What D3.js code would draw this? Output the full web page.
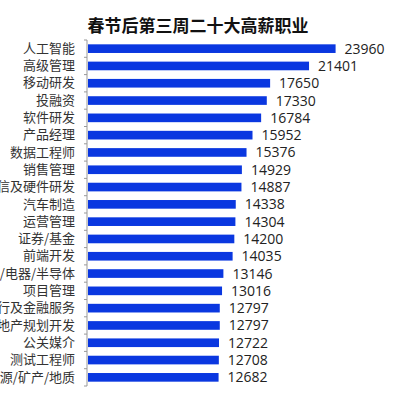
<!DOCTYPE html>
<html><head><meta charset="utf-8">
<script src="https://cdn.jsdelivr.net/npm/d3@7/dist/d3.min.js"></script>
<style>body{margin:0;background:#fff;}svg{display:block;}</style>
</head><body><svg id="c" width="400" height="400"></svg>
<script>
const title = "春节后第三周二十大高薪职业";
const categories = ["人工智能","高级管理","移动研发","投融资","软件研发","产品经理","数据工程师","销售管理","通信及硬件研发","汽车制造","运营管理","证券/基金","前端开发","电子/电器/半导体","项目管理","银行及金融服务","房地产规划开发","公关媒介","测试工程师","能源/矿产/地质"];
const values = [23960,21401,17650,17330,16784,15952,15376,14929,14887,14338,14304,14200,14035,13146,13016,12797,12797,12722,12708,12682];

const svg = d3.select("#c");
const mLeft = 87, mTop = 40, mBottom = 386;
const x = d3.scaleLinear().domain([0, 24000]).range([mLeft, mLeft + 249]);
const y = d3.scaleBand().domain(categories).range([mTop, mBottom]).paddingInner(0.5).paddingOuter(0.25);

svg.append("text").attr("x", 198).attr("y", 32).attr("text-anchor", "middle")
  .attr("font-family", "'Noto Sans CJK SC', sans-serif").attr("font-weight", "bold")
  .attr("font-size", 17).attr("fill", "#111").text(title);

svg.selectAll("rect.bar").data(values).join("rect").attr("class","bar")
  .attr("x", x(0) + 1).attr("y", (d,i) => y(categories[i]))
  .attr("width", d => x(d) - x(0) - 1).attr("height", y.bandwidth())
  .attr("fill", "#0a37e0");

svg.selectAll("text.val").data(values).join("text").attr("class","val")
  .attr("x", d => x(d) + 9).attr("y", (d,i) => y(categories[i]) + y.bandwidth()/2)
  .attr("dy", "0.36em").attr("font-family", "'Open Sans', 'Noto Sans', sans-serif")
  .attr("font-size", 14).attr("fill", "#222").text(d => d);

const ax = svg.append("g").attr("transform", `translate(${mLeft},0)`)
  .call(d3.axisLeft(y).tickSize(0).tickPadding(12));
ax.select(".domain").attr("stroke", "#999").attr("d", `M0,${mTop}V${mBottom}`);
ax.selectAll("text").attr("font-family", "'Noto Sans CJK SC', sans-serif").attr("font-size", 13).attr("fill", "#333");
const bounds = d3.range(categories.length + 1).map(i => mTop + i * (mBottom - mTop) / categories.length);
ax.selectAll("line.bt").data(bounds).join("line").attr("class","bt")
  .attr("x1", -3).attr("x2", 0).attr("y1", d => d).attr("y2", d => d).attr("stroke", "#999");
</script></body></html>
